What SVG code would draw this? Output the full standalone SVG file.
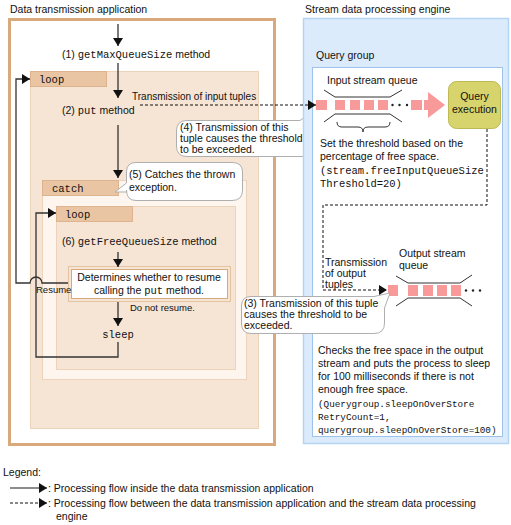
<svg xmlns="http://www.w3.org/2000/svg" width="511" height="525" viewBox="0 0 511 525">
<style>
text{font-family:"Liberation Sans",Arial,sans-serif;font-size:10.5px;fill:#111}
.sm{font-size:10px}
.mono{font-family:"Liberation Mono","Courier New",monospace}
.box{fill:#F6E5D5;stroke:#EDD3BA;stroke-width:1}
.hdr{fill:#E9C5A3;stroke:#DDB48E;stroke-width:1}
.flow{fill:none;stroke:#333;stroke-width:1.3}
.dash{fill:none;stroke:#111;stroke-width:1;stroke-dasharray:3,2}
.call{fill:#fff;stroke:#AFAFAF;stroke-width:1}
.pk{fill:#F99A9A}
.ql{fill:none;stroke:#333;stroke-width:1}
</style>
<defs>
<marker id="ah" markerWidth="8" markerHeight="10" refX="8" refY="5" orient="auto" markerUnits="userSpaceOnUse">
<path d="M0,0 L8,5 L0,10 Z" fill="#111"/>
</marker>
</defs>

<!-- Data transmission application -->
<g id="app">
<text x="10" y="13">Data transmission application</text>
<rect x="9.5" y="19.5" width="265" height="425" fill="#fff" stroke="#D9A97C" stroke-width="3"/>
</g>

<g id="loop1">
<rect class="box" x="30.5" y="71.5" width="228" height="357"/>
<rect class="hdr" x="30.5" y="71.5" width="76" height="15"/>
<text class="mono" x="39" y="82.5">loop</text>
</g>

<g id="catch">
<rect x="42.5" y="180.5" width="204" height="199" fill="#FDF5EE" stroke="#EDD3BA"/>
<rect class="hdr" x="42.5" y="180.5" width="76" height="15"/>
<text class="mono" x="52" y="191.5">catch</text>
</g>

<g id="loop2">
<rect class="box" x="56.5" y="206.5" width="179" height="163"/>
<rect class="hdr" x="56.5" y="206.5" width="76" height="15"/>
<text class="mono" x="65" y="217.5">loop</text>
</g>

<g id="step1"><text x="62" y="58">(1) <tspan class="mono">getMaxQueueSize</tspan> method</text></g>
<g id="step2"><text x="62" y="114">(2) <tspan class="mono">put</tspan> method</text></g>
<g id="step6"><text x="62" y="245">(6) <tspan class="mono">getFreeQueueSize</tspan> method</text></g>

<g id="decision">
<rect x="68.5" y="266.5" width="162" height="35" fill="#F6E5D5" stroke="#E3C3A2"/>
<rect x="71.5" y="269.5" width="156" height="29" fill="#fff" stroke="#D9A97C"/>
<text x="149" y="281" text-anchor="middle">Determines whether to resume</text>
<text x="149" y="294" text-anchor="middle">calling the <tspan class="mono">put</tspan> method.</text>
</g>

<g id="sleep"><text class="mono" x="118" y="338" text-anchor="middle">sleep</text></g>

<g id="callout4">
<path class="call" d="M187,120.5 H300 L316,109 L312.5,130 V146 Q312.5,156.5 302,156.5 H187 Q176.5,156.5 176.5,146 V131 Q176.5,120.5 187,120.5 Z"/>
<text x="180" y="131">(4) Transmission of this</text>
<text x="180" y="142">tuple causes the threshold</text>
<text x="180" y="153">to be exceeded.</text>
</g>

<g id="callout5">
<path class="call" d="M136,162.5 H232 Q242.5,162.5 242.5,172 V190 Q242.5,200.5 232,200.5 H136 Q126.5,200.5 126.5,190 V192 L115,192 L126.5,183 V172 Q126.5,162.5 136,162.5 Z"/>
<text x="129" y="178">(5) Catches the thrown</text>
<text x="129" y="191">exception.</text>
</g>

<!-- Stream data processing engine -->
<g id="engine">
<text x="305" y="13">Stream data processing engine</text>
<rect x="303.5" y="18.5" width="205" height="425" fill="#DCEBFC" stroke="#B4D4F4" stroke-width="1.5"/>
</g>

<g id="querygroup">
<text x="316" y="59">Query group</text>
<rect x="312.5" y="67.5" width="190" height="369" fill="#fff" stroke="#9DC3EC"/>
</g>

<g id="inputqueue">
<text x="327" y="84">Input stream queue</text>
<path class="ql" d="M324,90 L335,97 H390 L402,90 M324,122 L335,114 H390 L402,122"/>
<path class="ql" d="M337,122 Q337,127 342,127 H358 Q363,127 363,132 Q363,127 368,127 H385 Q390,127 390,122"/>
<rect class="pk" x="316" y="100" width="11" height="10"/>
<rect class="pk" x="335" y="100" width="10" height="10"/>
<rect class="pk" x="350" y="100" width="10" height="10"/>
<rect class="pk" x="364" y="100" width="10" height="10"/>
<rect class="pk" x="378" y="100" width="10" height="10"/>
<circle cx="392.5" cy="105" r="1.2" fill="#222"/>
<circle cx="399.5" cy="105" r="1.2" fill="#222"/>
<circle cx="407" cy="105" r="1.2" fill="#222"/>
<rect class="pk" x="411" y="100" width="11" height="10"/>
<path class="pk" d="M424,100 H428 V92 L445,105 L428,118 V110 H424 Z"/>
<text x="320" y="147">Set the threshold based on the</text>
<text x="320" y="160">percentage of free space.</text>
<text class="mono" x="320" y="174">(stream.freeInputQueueSize</text>
<text class="mono" x="320" y="187">Threshold=20)</text>
</g>

<g id="queryexec">
<rect x="448.5" y="81.5" width="52" height="47" rx="8" fill="#D7D46E" stroke="#BDB955"/>
<text x="474.5" y="100" text-anchor="middle">Query</text>
<text x="474.5" y="113" text-anchor="middle">execution</text>
</g>

<g id="outputqueue">
<text x="399" y="257">Output stream</text>
<text x="399" y="269">queue</text>
<path class="ql" d="M396,276 L408,283 H460 L472,275 M396,306 L408,298 H460 L472,306"/>
<rect class="pk" x="388" y="285" width="10" height="11"/>
<rect class="pk" x="408" y="285" width="10" height="11"/>
<rect class="pk" x="423" y="285" width="10" height="11"/>
<rect class="pk" x="437" y="285" width="10" height="11"/>
<rect class="pk" x="451" y="285" width="10" height="11"/>
<circle cx="466" cy="290.5" r="1.2" fill="#222"/>
<circle cx="473" cy="290.5" r="1.2" fill="#222"/>
<circle cx="480" cy="290.5" r="1.2" fill="#222"/>
<text x="325" y="266">Transmission</text>
<text x="325" y="277">of output</text>
<text x="325" y="288">tuples</text>
</g>

<g id="callout3">
<path class="call" d="M251,296.5 H374 L390,293 L384.5,308 V323 Q384.5,333.5 374,333.5 H251 Q241.5,333.5 241.5,323 V306 Q241.5,296.5 251,296.5 Z"/>
<text x="244" y="307">(3) Transmission of this tuple</text>
<text x="244" y="318">causes the threshold to be</text>
<text x="244" y="329">exceeded.</text>
</g>

<g id="checks">
<text x="318" y="354">Checks the free space in the output</text>
<text x="318" y="367">stream and puts the process to sleep</text>
<text x="318" y="380">for 100 milliseconds if there is not</text>
<text x="318" y="393">enough free space.</text>
<text class="mono" x="318" y="407" style="font-size:9.3px">(Querygroup.sleepOnOverStore</text>
<text class="mono" x="318" y="420" style="font-size:9.3px">RetryCount=1,</text>
<text class="mono" x="318" y="433" style="font-size:9.3px">querygroup.sleepOnOverStore=100)</text>
</g>

<!-- Connectors -->
<g id="connectors">
<line class="flow" x1="118" y1="24" x2="118" y2="46" marker-end="url(#ah)"/>
<line class="flow" x1="118" y1="63" x2="118" y2="98" marker-end="url(#ah)"/>
<line class="flow" x1="118" y1="125" x2="118" y2="178" marker-end="url(#ah)"/>
<line class="flow" x1="118" y1="252" x2="118" y2="267" marker-end="url(#ah)"/>
<line class="flow" x1="118" y1="302" x2="118" y2="326" marker-end="url(#ah)"/>
<path class="flow" d="M118,342 V357 H36 V213 H56" marker-end="url(#ah)"/>
<path class="flow" d="M68,283 H42 A6,6 0 0 0 30,283 H16 V79 H30" marker-end="url(#ah)"/>
<text class="sm" x="36" y="293" style="font-size:9.5px">Resume</text>
<text class="sm" x="130" y="311" style="font-size:9.5px">Do not resume.</text>
<text class="sm" x="132" y="100">Transmission of input tuples</text>
<path class="dash" d="M140,105 H316" marker-end="url(#ah)"/>
<path class="dash" d="M487,129 V205 H323 V290 H387" marker-end="url(#ah)"/>
</g>

<!-- Legend -->
<g id="legend">
<text x="3" y="476">Legend:</text>
<line x1="10" y1="488" x2="47" y2="488" stroke="#666" stroke-width="1.5" marker-end="url(#ah)"/>
<text x="48" y="492">: Processing flow inside the data transmission application</text>
<line x1="10" y1="503" x2="47" y2="503" stroke="#111" stroke-width="1" stroke-dasharray="3,2" marker-end="url(#ah)"/>
<text x="48" y="507">: Processing flow between the data transmission application and the stream data processing</text>
<text x="56" y="520">engine</text>
</g>
</svg>
